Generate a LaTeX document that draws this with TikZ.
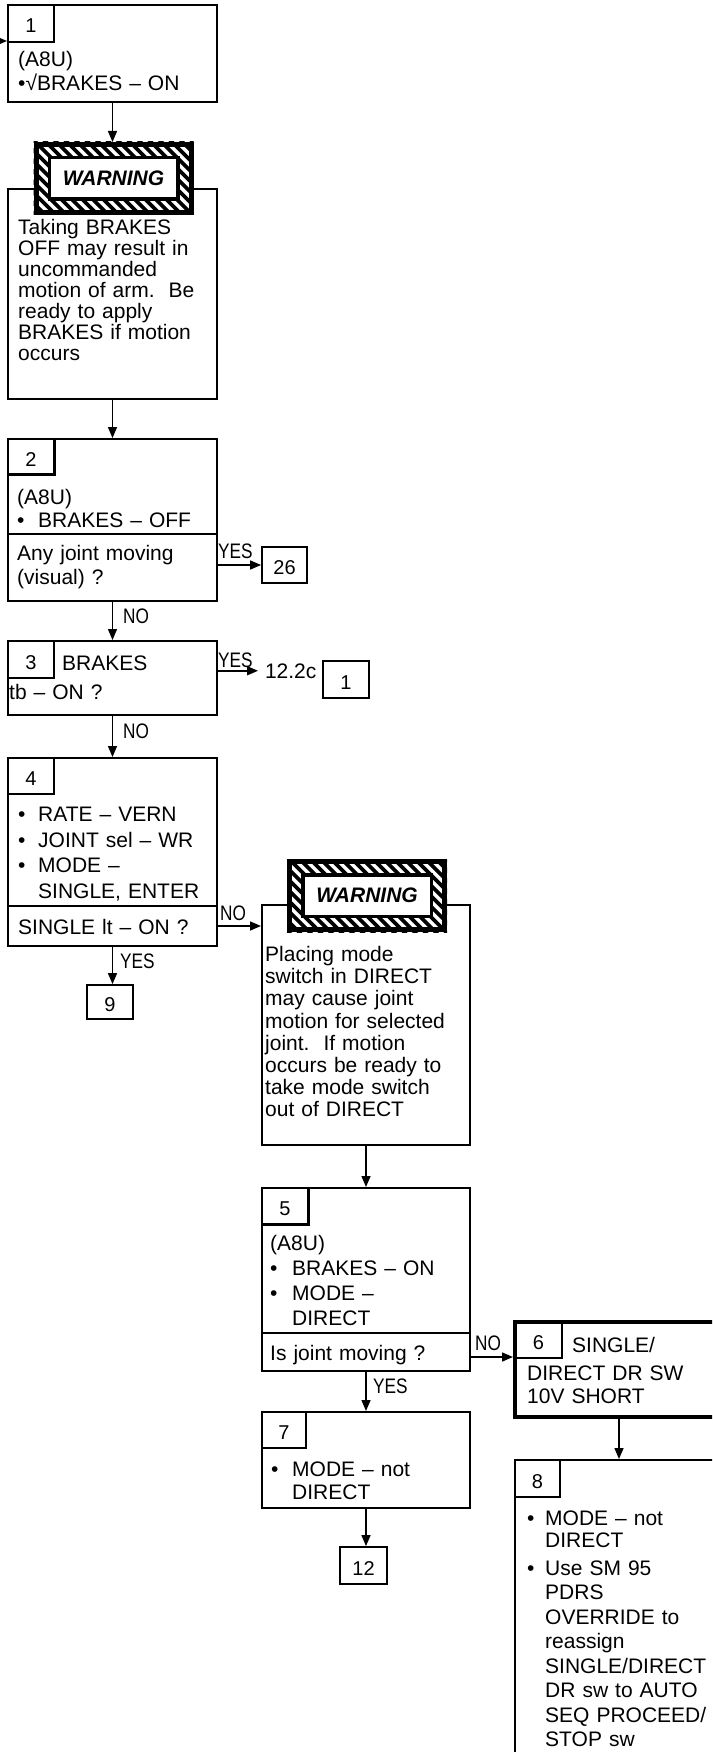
\documentclass[tikz,border=0pt]{standalone}
\usepackage{fontspec}
\setmainfont{Liberation Sans}
\newfontfamily\narrowfont[FakeStretch=0.82]{Liberation Sans}
\usetikzlibrary{arrows.meta}
\newcommand\blt[1]{\makebox[#1pt][l]{•}}
\newcommand\indt[1]{\hspace*{#1pt}}
\newcommand\mkbox[6]{\node[#1, minimum width={#5-#3}, minimum height={#6-#4}] (#2) at ({(#3+#5)/2},{(#4+#6)/2}) {};}
\newcommand\numbox[7]{\node[#1, minimum width={#5-#3}, minimum height={#6-#4}] (#2) at ({(#3+#5)/2},{(#4+#6)/2}) {#7};}
\newcommand\warnbanner[3]{%
  \fill[white] ({#2-80},{#3-36.5}) rectangle ({#2+80},{#3+36.5});
  \begin{scope}
    \clip ({#2-80},{#3-36.5}) rectangle ({#2+80},{#3+36.5});
    \foreach \k in {0,10.5,...,252}{\draw[line width=3.8pt] ({#2-160+\k},{#3-45}) -- ++(90,90);}
  \end{scope}
  \node[banout, minimum width=155pt, minimum height=68pt] (#1) at (#2,#3) {};
  \node[banin, minimum width=128.5pt, minimum height=41.5pt] (#1in) at (#2,#3) {WARNING};
}
\begin{document}
\begin{tikzpicture}[x=1pt,y=-1pt,
  box/.style={draw, line width=2pt, fill=white, inner sep=0pt, rectangle},
  box6/.style={draw, line width=4pt, fill=white, inner sep=0pt, rectangle},
  qrow/.style={draw, line width=1.3pt, inner sep=0pt, rectangle},
  nbox/.style={draw, line width=1.2pt, inner sep=0pt, rectangle, font=\fontsize{20}{20}\selectfont, text height=19pt, text depth=0pt},
  refbox/.style={draw, line width=1.8pt, inner sep=0pt, rectangle, font=\fontsize{20}{20}\selectfont, text height=19pt, text depth=0pt},
  thickedge/.style={line width=3pt},
  banout/.style={draw, line width=5pt, inner sep=0pt, rectangle},
  banin/.style={draw, line width=3.5pt, fill=white, inner sep=0pt, rectangle, font=\fontsize{21}{21}\selectfont\bfseries\itshape},
  txt/.style={anchor=base west, inner sep=0pt, align=left, text width=300pt, font=\fontsize{21}{#1}\selectfont},
  txt/.default=24,
  lbl/.style={anchor=base west, inner sep=0pt, font=\narrowfont\fontsize{21}{21}\selectfont},
  lblm/.style={anchor=base west, inner sep=0pt, outer xsep=7pt, font=\fontsize{21}{21}\selectfont},
  arr/.style={line width=1.5pt, -{Triangle[length=11pt,width=9pt]}}
]
\useasboundingbox (0,0) rectangle (712,1752);
\clip (0,0) rectangle (712,1752);

% ---------- Box 1
\mkbox{box}{b1}{8}{5}{217}{102}
\numbox{nbox}{n1}{8}{5}{54}{42}{1}
\node[txt=24] (t1) at (18,66.7) {(A8U)\\•√BRAKES – ON};
\coordinate (in1) at (-20,41);

% ---------- Warning 1
\mkbox{box}{w1}{8}{189}{217}{399}
\warnbanner{ban1}{113.5}{178.5}
\node[txt=21] (tw1) at (18,235) {Taking BRAKES\\OFF may result in\\uncommanded\\motion of arm.\ \ Be\\ready to apply\\BRAKES if motion\\occurs};

% ---------- Box 2
\mkbox{box}{b2}{8}{439}{217}{601}
\mkbox{qrow}{q2}{8}{534}{217}{601}
\numbox{nbox}{n2}{8}{439}{54}{474}{2}
\draw[thickedge] (n2.north east) -- (n2.south east) -- (n2.south west);
\node[txt=23] (t2) at (17,504) {(A8U)\\\blt{21}BRAKES – OFF};
\node[txt=23.3] (tq2) at (17,560.7) {Any joint moving\\(visual) ?};
\numbox{refbox}{t26}{262}{547}{307}{583}{26}

% ---------- Box 3
\mkbox{box}{b3}{8}{641}{217}{715}
\numbox{nbox}{n3}{8}{641}{54}{678}{3}
\node[txt] (t3a) at (62,670) {BRAKES};
\node[txt] (t3b) at (9,699) {tb – ON ?};
\node[lblm] (r122) at (258,678) {12.2c};
\numbox{refbox}{r1}{323}{661}{369}{698}{1}

% ---------- Box 4
\mkbox{box}{b4}{8}{758}{217}{946}
\mkbox{qrow}{q4}{8}{906}{217}{946}
\numbox{nbox}{n4}{8}{758}{54}{794}{4}
\node[txt=25.5] (t4) at (18,821.7) {\blt{20}RATE – VERN\\\blt{20}JOINT sel – WR\\\blt{20}MODE –\\\indt{20}SINGLE, ENTER};
\node[txt] (tq4) at (18,934) {SINGLE lt – ON ?};
\numbox{refbox}{t9}{87}{985}{133}{1019}{9}

% ---------- Warning 2
\mkbox{box}{w2}{262}{905}{470}{1145}
\warnbanner{ban2}{367}{895.5}
\node[txt=22.1] (tw2) at (265,961.7) {Placing mode\\switch in DIRECT\\may cause joint\\motion for selected\\joint.\ \ If motion\\occurs be ready to\\take mode switch\\out of DIRECT};

% ---------- Box 5
\mkbox{box}{b5}{262}{1188}{470}{1371}
\mkbox{qrow}{q5}{262}{1333}{470}{1371}
\numbox{nbox}{n5}{262}{1188}{308}{1224}{5}
\draw[thickedge] (n5.north east) -- (n5.south east) -- (n5.south west);
\node[txt=25] (t5) at (270,1250) {(A8U)\\\blt{22}BRAKES – ON\\\blt{22}MODE –\\\indt{22}DIRECT};
\node[txt] (tq5) at (270,1360) {Is joint moving ?};

% ---------- Box 6
\mkbox{box6}{b6}{515}{1322}{723}{1417}
\numbox{nbox}{n6}{515}{1322}{562}{1358}{6}
\node[txt] (t6a) at (572,1352) {SINGLE/};
\node[txt=23] (t6b) at (527,1380) {DIRECT DR SW\\10V SHORT};

% ---------- Box 7
\mkbox{box}{b7}{262}{1412}{470}{1508}
\numbox{nbox}{n7}{262}{1412}{306}{1448}{7}
\node[txt=23.3] (t7) at (271,1476) {\blt{21}MODE – not\\\indt{21}DIRECT};
\numbox{refbox}{t12}{340}{1547}{387}{1584}{12}

% ---------- Box 8
\mkbox{box}{b8}{515}{1460}{723}{1780}
\numbox{nbox}{n8}{515}{1460}{560}{1497}{8}
\node[txt=24.5] (t8) at (527,1525) {\blt{18}MODE – not\\[-2.5pt]\indt{18}DIRECT\\[3.5pt]\blt{18}Use SM 95\\\indt{18}PDRS\\\indt{18}OVERRIDE to\\\indt{18}reassign\\\indt{18}SINGLE/DIRECT\\\indt{18}DR sw to AUTO\\\indt{18}SEQ PROCEED/\\\indt{18}STOP sw};

% ---------- Connectors
\draw[arr] (in1) -- (in1 -| b1.west);
\draw[arr] (b1.south) -- (b1.south |- ban1.north);
\draw[arr] (w1.south) -- (b2.north);
\draw[arr] (q2.east |- t26.west) -- (t26.west);
\node[lbl] (y2) at (218,558) {YES};
\draw[arr] (b2.south) -- (b3.north);
\node[lbl] (no2) at (123,623) {NO};
\draw[arr] (b3.east |- r122.west) -- (r122.west);
\node[lbl] (y3) at (218,667) {YES};
\draw[arr] (b3.south) -- (b4.north);
\node[lbl] (no3) at (123,738) {NO};
\draw[arr] (q4.east) -- (q4.east -| w2.west);
\node[lbl] (no4) at (220,920) {NO};
\draw[arr] (b4.south) -- (b4.south |- t9.north);
\node[lbl] (y4) at (120,968) {YES};
\draw[arr] (w2.south) -- (w2.south |- b5.north);
\draw[arr] (b5.south) -- (b7.north);
\node[lbl] (y5) at (373,1393) {YES};
\path (q5.east) ++(0,5) coordinate (c5);
\draw[arr] (c5) -- (c5 -| b6.west);
\node[lbl] (no5) at (475,1350) {NO};
\draw[arr] (b7.south) -- (b7.south |- t12.north);
\draw[arr] (b6.south) -- (b8.north);
\end{tikzpicture}
\end{document}
